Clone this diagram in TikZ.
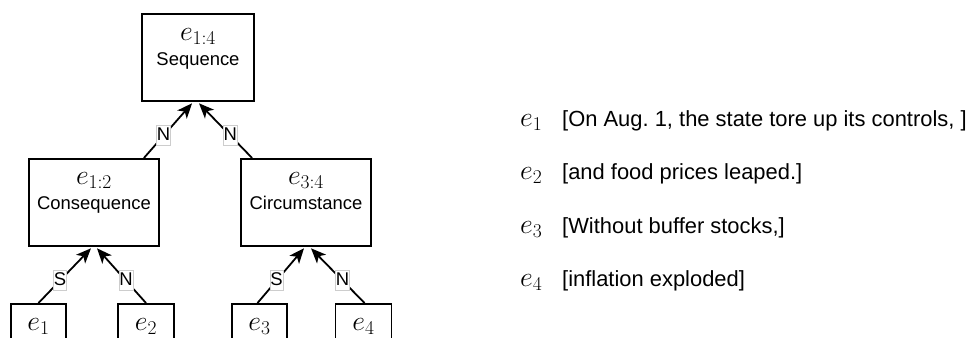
\RequirePackage{fix-cm}
\documentclass[tikz,border=0pt]{standalone}
\usepackage{fontspec}
\setsansfont{Liberation Sans}
\frenchspacing
\usetikzlibrary{arrows.meta,calc}
\tikzset{
  treebox/.style={draw=black,line width=1.8bp,inner sep=0pt,anchor=north},
  mathlbl/.style={inner sep=0pt,anchor=base,font=\fontsize{28}{30}\selectfont},
  boxtext/.style={inner sep=0pt,anchor=base,font=\sffamily\fontsize{18.5}{20}\selectfont},
  rel/.style={line width=1.8bp,-{Stealth[length=15bp,width=12.5bp,inset=4bp]}},
  edgelbl/.style={fill=white,draw={rgb,255:red,205;green,205;blue,205},line width=0.6bp,
    inner xsep=0.3bp,inner ysep=0pt,text height=14.5bp,text depth=5.5bp,
    font=\sffamily\fontsize{18.5}{20}\selectfont,pos=0.41},
  listmath/.style={inner sep=0pt,anchor=base west,font=\fontsize{28}{30}\selectfont},
  listtext/.style={inner sep=0pt,anchor=base west,font=\sffamily\fontsize{22}{26}\selectfont}
}
\begin{document}
\begin{tikzpicture}[x=1bp,y=-1bp]
\useasboundingbox[fill=white] (0,0) rectangle (972,337);
% boxes
\node[treebox,minimum width=112bp,minimum height=87bp] (top) at (198,13) {};
\node[treebox,minimum width=130bp,minimum height=87bp] (ml) at (94,158) {};
\node[treebox,minimum width=130bp,minimum height=87bp] (mr) at (306,158) {};
\node[treebox,minimum width=55bp,minimum height=60bp] (b1) at (38.5,303) {};
\node[treebox,minimum width=56bp,minimum height=60bp] (b2) at (146,303) {};
\node[treebox,minimum width=55bp,minimum height=60bp] (b3) at (259.5,303) {};
\node[treebox,minimum width=56bp,minimum height=60bp] (b4) at (363.5,303) {};
% box contents
\node[mathlbl] (topm) at ($(top.north)+(0,27)$) {$e_{1:4}$};
\node[boxtext] (topt) at ($(top.north)+(0,52)$) {Sequence};
\node[mathlbl] (mlm) at ($(ml.north)+(0,26)$) {$e_{1:2}$};
\node[boxtext] (mlt) at ($(ml.north)+(0,51)$) {Consequence};
\node[mathlbl] (mrm) at ($(mr.north)+(0,26)$) {$e_{3:4}$};
\node[boxtext] (mrt) at ($(mr.north)+(0,51)$) {Circumstance};
\node[mathlbl] (b1m) at ($(b1.north)+(0,27)$) {$e_1$};
\node[mathlbl] (b2m) at ($(b2.north)+(0,27)$) {$e_2$};
\node[mathlbl] (b3m) at ($(b3.north)+(0,27)$) {$e_3$};
\node[mathlbl] (b4m) at ($(b4.north)+(0,27)$) {$e_4$};
% arrow end points
\coordinate (topL) at ($(top.south)+(-6,1.5)$);
\coordinate (topR) at ($(top.south)+(1,1.5)$);
\coordinate (mlL) at ($(ml.south)+(-3,1.5)$);
\coordinate (mlR) at ($(ml.south)+(3,1.5)$);
\coordinate (mrL) at ($(mr.south)+(-2,1.5)$);
\coordinate (mrR) at ($(mr.south)+(5,1.5)$);
\coordinate (mlS) at ($(ml.north east)+(-16,0)$);
\coordinate (mrS) at ($(mr.north west)+(12,0)$);
% connectors
\draw[rel] (mlS) -- node[edgelbl] (lab1) {N} (topL);
\draw[rel] (mrS) -- node[edgelbl] (lab2) {N} (topR);
\draw[rel] (b1.north) -- node[edgelbl] (lab3) {S} (mlL);
\draw[rel] (b2.north) -- node[edgelbl] (lab4) {N} (mlR);
\draw[rel] ($(b3.north)+(-2,0)$) -- node[edgelbl] (lab5) {S} (mrL);
\draw[rel] ($(b4.north)+(1,0)$) -- node[edgelbl] (lab6) {N} (mrR);
% list
\node[listmath] (l1m) at (520,126) {$e_1$};
\node[listtext] (l1t) at (562,126) {[On Aug. 1, the state tore up its controls, ]};
\node[listmath] (l2m) at (520,179.5) {$e_2$};
\node[listtext] (l2t) at (562,179.5) {[and food prices leaped.]};
\node[listmath] (l3m) at (520,233) {$e_3$};
\node[listtext] (l3t) at (562,233) {[Without buffer stocks,]};
\node[listmath] (l4m) at (520,286) {$e_4$};
\node[listtext] (l4t) at (562,286) {[inflation exploded]};
\end{tikzpicture}
\end{document}
